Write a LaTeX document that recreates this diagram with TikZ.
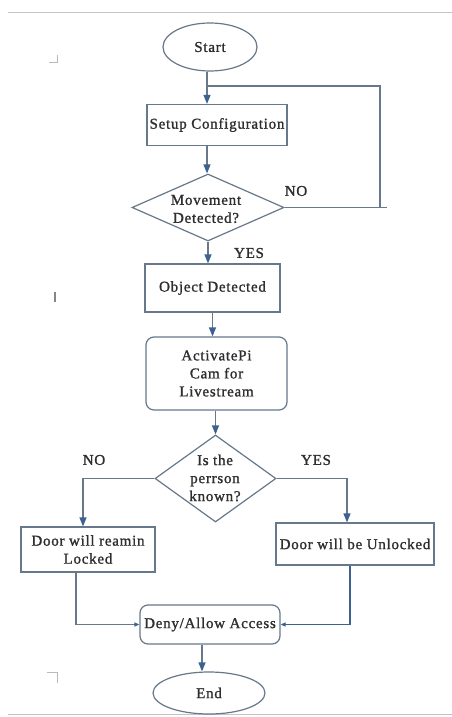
\documentclass[tikz,border=0pt]{standalone}
\usepackage{fontspec}
\setmainfont[LetterSpace=5, FakeBold=1.2]{Liberation Serif}
\usetikzlibrary{shapes.geometric,arrows.meta}
\definecolor{edge}{HTML}{66788A}
\definecolor{tip}{HTML}{3D6290}
\definecolor{ink}{HTML}{2E2E2E}
\definecolor{rulec}{HTML}{C4C4C4}
\begin{document}
\begin{tikzpicture}[x=1pt,y=-1pt,
  every node/.style={font=\fontsize{15}{18}\selectfont, text=ink},
  box/.style={draw=edge, line width=1.2pt, rectangle, inner sep=0pt, align=center},
  rbox/.style={box, rounded corners=8pt},
  oval/.style={draw=edge, line width=1.2pt, ellipse, inner sep=0pt},
  dia/.style={draw=edge, line width=1.2pt, diamond, inner sep=0pt},
  txt/.style={align=center, inner sep=0pt},
  link/.style={draw=edge, line width=1.2pt},
  arr/.style={link, -{Triangle[length=9pt,width=7pt,fill=tip,color=tip]}},
  arrs/.style={link, -{Triangle[length=5pt,width=4pt,fill=tip,color=tip]}},
  pagemark/.style={draw=gray!55, line width=0.9pt},
  rulemark/.style={draw=rulec, line width=1pt}
]
\fill[white] (0,0) rectangle (452,717);
\useasboundingbox (0,0) rectangle (452,717);

% page rules and marks
\draw[rulemark] (8,13) -- (452,13);
\draw[rulemark] (8,714) -- (452,714);
\draw[pagemark] (49,62) -- (57,62) -- (57,55);
\draw[pagemark, draw=gray!95, line width=1.6pt] (55,292) -- (55,302);
\draw[pagemark] (47,672) -- (57,672) -- (57,683);

% nodes
\node[oval, minimum width=94pt, minimum height=48pt] (start) at (210,47) {Start};
\node[box, minimum width=140pt, minimum height=41pt] (setup) at (217,125) {Setup Configuration};
\node[dia, minimum width=152pt, minimum height=67pt] (move) at (208,207.5) {};
\node[txt] (movetxt) at (206,209) {Movement\\Detected?};
\node[txt] (yes1) at (249,253) {YES};
\node[txt] (no1) at (296,191) {NO};
\node[box, minimum width=135pt, minimum height=48pt] (obj) at (212.5,288) {Object Detected};
\node[rbox, minimum width=141pt, minimum height=73pt] (cam) at (216.5,373.5) {ActivatePi\\Cam for\\Livestream};
\node[dia, minimum width=121pt, minimum height=87pt] (known) at (215.5,478.5) {};
\node[txt] (knowntxt) at (215,478) {Is the\\perrson\\known?};
\node[txt] (no2) at (94,460) {NO};
\node[txt] (yes2) at (316,460) {YES};
\node[box, minimum width=134pt, minimum height=45pt] (locked) at (88,549.5) {Door will reamin\\Locked};
\node[box, minimum width=158pt, minimum height=42pt] (unlocked) at (355,544) {Door will be Unlocked};
\node[rbox, minimum width=140pt, minimum height=39pt] (deny) at (210,624.5) {Deny/Allow Access};
\node[oval, minimum width=112pt, minimum height=42pt] (end) at (209,693) {End};

% helper coordinates
\coordinate (xa) at (207,0);
\coordinate (loopend) at (387,207.5);
\coordinate (loopx) at (380,0);
\coordinate (join) at (207,86);
\coordinate (lx) at (83,0);
\coordinate (rx) at (347,0);
\coordinate (lx2) at (76,0);
\coordinate (rx2) at (350,0);
\coordinate (ex) at (202,0);

% connectors
\draw[arr] (start.south -| xa) -- (setup.north -| xa);
\draw[arr] (setup.south -| xa) -- (move.north -| xa);
\draw[link] (move.east) -- (loopend);
\draw[link] (move.east -| loopx) |- (join);
\draw[arr] (move.south) -- (obj.north -| move.south);
\draw[arr] (obj.south) -- (cam.north -| obj.south);
\draw[arr] (cam.south -| known.north) -- (known.north);
\draw[arr] (known.west) -| (locked.north -| lx);
\draw[arr] (known.east) -| (unlocked.north -| rx);
\draw[arrs] (locked.south -| lx2) |- (deny.west);
\draw[arrs, draw=tip, line width=1.5pt] (unlocked.south -| rx2) |- (deny.east);
\draw[arr] (deny.south -| ex) -- (end.north -| ex);
\end{tikzpicture}
\end{document}
